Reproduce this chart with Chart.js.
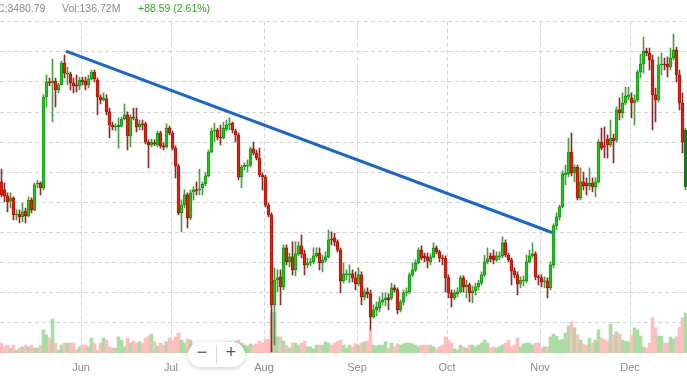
<!DOCTYPE html>
<html>
<head>
<meta charset="utf-8">
<script src="https://cdn.jsdelivr.net/npm/chart.js@4.4.1/dist/chart.umd.min.js"></script>
<style>
  html, body { margin: 0; padding: 0; background: #fff; overflow: hidden; }
  #wrap { position: relative; width: 687px; height: 376px; }
  #wrap canvas { position: absolute; left: 0; top: 0; }
  .info { position: absolute; top: 2px; font: 10.5px "Liberation Sans", Arial, sans-serif; line-height: 12px; color: #8a8a8a; white-space: nowrap; }
  .info.up { color: #3c9e2c; }
  #zoom { position: absolute; left: 188px; top: 342px; width: 57px; height: 25px; border-radius: 13px;
          background: rgba(255,255,255,0.96); box-shadow: 0 1px 5px rgba(0,0,0,0.22); }
  #zoom span { position: absolute; top: 0; width: 28px; height: 25px; line-height: 24px; text-align: center;
               font: 18px "Liberation Sans", Arial, sans-serif; color: #555; }
  #zoom .sep { position: absolute; left: 28px; top: 3px; width: 1px; height: 19px; background: #dcdcdc; }
</style>
</head>
<body>
<div id="wrap">
  <canvas id="chart" width="687" height="376"></canvas>
  <div class="info" style="left:-3px">C:3480.79</div>
  <div class="info" style="left:62px">Vol:136.72M</div>
  <div class="info up" style="left:138px">+88.59 (2.61%)</div>
  <div id="zoom"><span style="left:0">−</span><div class="sep"></div><span style="left:29px">+</span></div>
</div>
<script>
// daily candles, index 0 = May 5
const open = [
  3136,3083,3043,3009,3030,2917,2923,2904,2943,2910,
  3016,2950,3122,3129,3096,3700,3800,3793,3806,3747,
  3780,3926,3852,3852,3793,3780,3773,3813,3806,3780,
  3820,3866,3813,3700,3680,3687,3601,3514,3501,3501,
  3507,3554,3581,3441,3567,3554,3501,3521,3521,3401,
  3381,3395,3381,3461,3375,3368,3494,3461,3361,3242,
  2930,2983,3050,2897,3069,3083,3083,3096,3122,3176,
  3335,3474,3481,3434,3428,3487,3514,3527,3474,3448,
  3169,3235,3242,3248,3355,3328,3295,3182,3169,2983,
  2917,2320,2485,2505,2439,2698,2605,2638,2552,2658,
  2711,2658,2585,2598,2605,2645,2664,2598,2618,2638,
  2757,2764,2738,2684,2479,2519,2519,2525,2499,2459,
  2519,2373,2406,2393,2240,2286,2300,2340,2353,2366,
  2366,2432,2419,2286,2340,2399,2406,2519,2552,2598,
  2684,2645,2638,2605,2638,2698,2671,2631,2631,2499,
  2399,2366,2393,2406,2499,2439,2452,2399,2412,2439,
  2465,2519,2605,2645,2645,2618,2638,2645,2731,2651,
  2618,2545,2519,2459,2479,2479,2605,2645,2658,2505,
  2499,2472,2479,2432,2585,2844,2904,2970,3182,3189,
  3335,3196,3235,3030,3136,3129,3109,3129,3103,3136,
  3401,3375,3421,3381,3428,3415,3614,3594,3660,3700,
  3694,3660,3680,3866,3919,4005,3992,3946,3714,3680,
  3913,3919,3919,3899,3959,4012,3846,3660,3103
];
const high = [
  3222,3129,3063,3063,3037,2950,2950,2996,2963,3037,
  3030,3129,3149,3136,3714,3846,3826,3952,3826,3793,
  3939,3979,3899,3866,3826,3846,3833,3833,3833,3846,
  3879,3879,3826,3714,3727,3714,3627,3534,3521,3561,
  3567,3654,3601,3581,3627,3627,3547,3547,3534,3415,
  3421,3415,3474,3474,3395,3521,3507,3474,3375,3255,
  3016,3083,3063,3083,3103,3136,3222,3136,3196,3348,
  3494,3527,3494,3514,3534,3547,3561,3534,3487,3461,
  3248,3262,3282,3368,3401,3348,3361,3196,3182,2996,
  2930,2565,2552,2552,2718,2718,2664,2738,2738,2738,
  2784,2684,2631,2631,2698,2698,2698,2651,2671,2817,
  2804,2797,2751,2698,2598,2552,2585,2552,2539,2565,
  2539,2426,2432,2419,2320,2340,2373,2399,2399,2393,
  2465,2452,2432,2353,2419,2432,2532,2598,2618,2698,
  2711,2664,2664,2658,2731,2711,2684,2651,2645,2519,
  2419,2419,2432,2512,2512,2485,2465,2446,2465,2485,
  2539,2651,2698,2664,2684,2671,2671,2771,2751,2664,
  2631,2565,2539,2505,2512,2651,2684,2731,2671,2519,
  2519,2505,2499,2605,2857,2930,2983,3209,3248,3428,
  3461,3248,3248,3229,3202,3163,3229,3163,3163,3415,
  3494,3501,3448,3547,3454,3634,3694,3727,3766,3766,
  3727,3714,3879,3985,4098,4025,4025,3979,3760,3966,
  3992,3959,3966,4025,4118,4032,3879,3727,3494
];
const low = [
  3037,3003,2937,2963,2884,2884,2864,2871,2864,2904,
  2930,2943,3096,3050,3083,3634,3773,3534,3634,3727,
  3780,3826,3780,3747,3727,3734,3747,3780,3747,3760,
  3813,3800,3581,3654,3674,3581,3428,3481,3474,3361,
  3501,3547,3348,3368,3547,3468,3481,3481,3388,3229,
  3368,3375,3368,3361,3348,3361,3448,3348,3163,2917,
  2804,2963,2831,2884,3016,3050,3050,3050,3109,3169,
  3328,3401,3415,3381,3421,3474,3481,3461,3401,3149,
  3096,3216,3202,3235,3315,3282,3169,3083,2970,2904,
  2007,2054,2406,2320,2419,2585,2572,2519,2512,2645,
  2631,2519,2565,2578,2591,2631,2552,2539,2605,2631,
  2718,2711,2671,2399,2465,2485,2465,2472,2419,2446,
  2320,2353,2366,2153,2233,2246,2273,2320,2313,2286,
  2353,2406,2260,2273,2320,2379,2393,2505,2539,2591,
  2618,2605,2565,2585,2631,2658,2605,2585,2406,2366,
  2306,2353,2373,2399,2406,2366,2340,2333,2386,2419,
  2452,2505,2591,2605,2591,2605,2618,2631,2638,2605,
  2452,2499,2386,2432,2446,2465,2598,2631,2485,2452,
  2439,2432,2366,2419,2565,2817,2884,2963,3116,3169,
  3176,3136,3016,3016,3083,3050,3083,3069,3037,3129,
  3348,3295,3295,3368,3262,3401,3547,3561,3647,3680,
  3561,3514,3667,3826,3859,3972,3879,3481,3534,3667,
  3846,3879,3833,3879,3946,3800,3614,3328,3083
];
const close = [
  3050,3043,3003,3030,2917,2923,2904,2937,2910,3016,
  2950,3116,3129,3096,3700,3800,3793,3806,3747,3780,
  3926,3859,3859,3793,3773,3773,3813,3800,3780,3820,
  3866,3820,3700,3680,3694,3601,3514,3501,3507,3514,
  3554,3581,3441,3567,3561,3501,3521,3514,3401,3381,
  3401,3388,3461,3375,3368,3494,3461,3361,3242,2930,
  2983,3050,2897,3063,3083,3076,3089,3122,3176,3335,
  3474,3481,3434,3428,3494,3514,3521,3481,3448,3169,
  3235,3248,3248,3355,3328,3295,3182,3169,2983,2917,
  2320,2485,2499,2439,2698,2605,2638,2552,2658,2711,
  2658,2585,2598,2605,2645,2664,2598,2618,2638,2751,
  2751,2738,2684,2479,2525,2525,2525,2499,2459,2519,
  2373,2406,2393,2240,2286,2306,2340,2353,2366,2353,
  2432,2419,2286,2340,2399,2406,2519,2552,2598,2684,
  2631,2631,2611,2638,2698,2671,2631,2625,2499,2399,
  2366,2399,2406,2499,2439,2452,2399,2412,2439,2465,
  2519,2605,2625,2625,2618,2645,2645,2731,2651,2618,
  2545,2519,2459,2485,2485,2605,2645,2658,2505,2499,
  2472,2479,2432,2585,2844,2904,2970,3189,3196,3335,
  3196,3235,3030,3136,3109,3109,3129,3103,3136,3401,
  3361,3368,3381,3428,3408,3614,3594,3660,3707,3714,
  3660,3680,3866,3919,4005,3992,3946,3714,3680,3913,
  3919,3913,3899,3959,4012,3846,3660,3401,3481
];
// volume in millions
const volume = [
  34,21,27,17,27,10,17,21,27,21,
  27,17,17,27,79,62,51,116,34,10,
  27,34,34,34,34,10,21,27,27,21,
  51,34,10,34,51,44,21,17,17,55,
  44,21,51,34,41,34,38,34,51,58,
  65,38,24,34,27,38,51,44,55,68,
  44,34,48,44,27,24,31,21,27,24,
  31,34,27,24,31,27,38,31,41,44,
  34,27,24,31,27,31,41,34,44,48,
  137,140,55,55,41,27,17,34,34,27,
  34,41,21,21,14,27,27,27,38,34,
  27,34,41,44,27,17,27,21,31,27,
  34,38,41,79,27,24,27,27,38,17,
  34,21,31,27,31,34,34,31,27,21,
  27,27,27,27,21,14,21,27,55,44,
  34,14,10,27,21,17,27,27,21,27,
  34,44,34,17,21,17,21,27,34,44,
  21,27,51,21,31,34,34,27,34,34,
  17,21,21,55,65,58,44,48,68,92,
  106,86,62,44,31,27,51,34,44,79,
  51,44,41,99,62,72,65,44,41,38,
  62,86,79,58,21,17,34,120,86,58,
  58,34,34,55,48,55,89,120,136.72
];
// month labels and the day index of the 1st of each month
const monthNames = ['Jun', 'Jul', 'Aug', 'Sep', 'Oct', 'Nov', 'Dec'];
const monthStart = [27, 57, 88, 119, 149, 180, 210];
// trend line end points (day index, price)
const trendX = [21.5, 183.5];
const trendY = [4005, 2800];

const last = close.length - 1;
const isUp = i => close[i] >= open[i];

Chart.defaults.font.family = '"Liberation Sans", Arial, sans-serif';

new Chart(document.getElementById('chart'), {
  type: 'bar',
  data: {
    datasets: [
      {
        type: 'line',
        data: trendX.map((x, i) => ({ x: x, y: trendY[i] })),
        borderColor: '#1b67c4',
        borderWidth: 3,
        pointRadius: 0,
        yAxisID: 'y',
        order: 0
      },
      {
        data: open.map((o, i) => ({ x: i, y: [o, close[i]] })),
        backgroundColor: c => c.dataIndex === last ? '#2f6b2a' : (isUp(c.dataIndex) ? '#1fc81b' : '#e5220c'),
        borderColor: c => isUp(c.dataIndex) ? '#0f7a16' : '#8a0c0c',
        borderWidth: 0.7,
        borderSkipped: false,
        barThickness: 2.9,
        grouped: false,
        yAxisID: 'y',
        order: 1
      },
      {
        data: low.map((l, i) => ({ x: i, y: [l, high[i]] })),
        backgroundColor: c => isUp(c.dataIndex) ? '#4f9b45' : '#8c2b2b',
        barThickness: 1,
        grouped: false,
        yAxisID: 'y',
        order: 2
      },
      {
        data: volume.map((v, i) => ({ x: i, y: v })),
        backgroundColor: c => isUp(c.dataIndex) ? '#abdca4' : '#ffbfbf',
        barThickness: 3,
        grouped: false,
        yAxisID: 'y1',
        order: 3
      }
    ]
  },
  options: {
    responsive: false,
    devicePixelRatio: 1,
    animation: false,
    events: [],
    layout: { padding: { top: 21.7, left: 0, right: 0, bottom: 0 } },
    plugins: { legend: { display: false }, tooltip: { enabled: false } },
    scales: {
      x: {
        type: 'linear',
        min: -0.5,
        max: 228.5,
        offset: false,
        grid: { color: '#d4d4d4', lineWidth: 1, drawTicks: false, offset: false },
        border: { display: false, dash: [4, 3] },
        ticks: {
          padding: 8,
          color: '#8a8a8a',
          font: { size: 11 },
          autoSkip: false,
          maxRotation: 0,
          callback: (v, i) => monthNames[i]
        },
        afterBuildTicks: s => { s.ticks = monthStart.map(d => ({ value: d - 0.5 })); },
        afterFit: s => { s.height = 23; }
      },
      y: {
        min: 2000,
        max: 4200,
        ticks: { stepSize: 200, display: false },
        grid: {
          color: c => c.tick && c.tick.value === 2000 ? 'rgba(0,0,0,0)' : '#d4d4d4',
          lineWidth: 1,
          drawTicks: false
        },
        border: { display: false, dash: [4, 3] },
        afterFit: s => { s.width = 0; }
      },
      y1: { display: false, min: 0, max: 1133 }
    }
  }
});
</script>
</body>
</html>
